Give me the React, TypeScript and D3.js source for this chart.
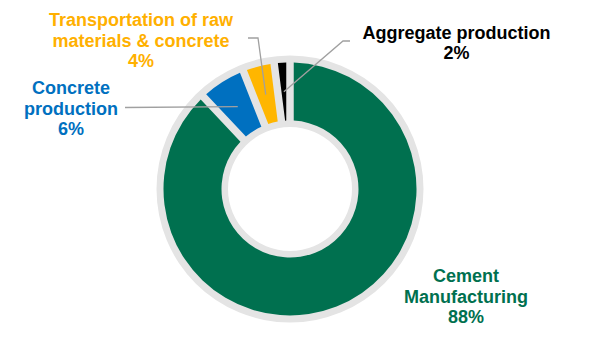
import React from "react";
import * as d3 from "d3";

const categories = [
  "Cement Manufacturing",
  "Concrete production",
  "Transportation of raw materials & concrete",
  "Aggregate production",
];
const shares = [88, 6, 4, 2];
const sliceColors = ["#00704f", "#0070c0", "#ffb600", "#000000"];
const textColors = ["#00704f", "#0070c0", "#ffb000", "#000000"];
const labelLines = [
  ["Cement", "Manufacturing", "88%"],
  ["Concrete", "production", "6%"],
  ["Transportation of raw", "materials & concrete", "4%"],
  ["Aggregate production", "2%"],
];

// layout (not data)
const W = 600;
const H = 360;
const CX = 290;
const CY = 189;
const labelPos = [
  { x: 466, y: 282 },
  { x: 71, y: 94 },
  { x: 141, y: 26 },
  { x: 456.5, y: 38.5 },
];
const leaderStarts: ([number, number][] | null)[] = [
  null,
  [[125, 107.5]],
  [[248, 38], [258, 38]],
  [[350, 41], [343, 41]],
];

export default function App() {
  const pie = d3
    .pie<number>()
    .sort(null)
    .value((d) => d)
    .startAngle(0)
    .endAngle(2 * Math.PI);
  const arcs = pie(shares);
  const arc = d3
    .arc<d3.PieArcDatum<number>>()
    .innerRadius(68.5)
    .outerRadius(126.5)
    .padAngle(0.052);
  const ring = d3
    .arc<any>()
    .innerRadius(62)
    .outerRadius(133.5)
    .startAngle(0)
    .endAngle(2 * Math.PI);

  return (
    <svg
      width={W}
      height={H}
      style={{ position: "absolute", left: 0, top: 0, background: "#fff" }}
      fontFamily="'Liberation Sans', Arial, sans-serif"
    >
      <g transform={`translate(${CX},${CY})`}>
        <path d={ring({}) || ""} fill="#e4e4e4" />
        {arcs.map((a, i) => (
          <path key={i} d={arc(a) || ""} fill={sliceColors[i]} />
        ))}
      </g>
      {arcs.map((a, i) => {
        const starts = leaderStarts[i];
        if (!starts) return null;
        const [mx, my] = arc.centroid(a);
        const pts = [...starts, [mx + CX, my + CY]] as [number, number][];
        return (
          <path
            key={"l" + i}
            d={d3.line()(pts) || ""}
            fill="none"
            stroke="#a0a0a0"
            strokeWidth={1.3}
          />
        );
      })}
      {labelLines.map((lines, i) => (
        <text
          key={"t" + i}
          x={labelPos[i].x}
          y={labelPos[i].y}
          textAnchor="middle"
          fontSize={18}
          fontWeight="bold"
          fill={textColors[i]}
        >
          {lines.map((ln, j) => (
            <tspan key={j} x={labelPos[i].x} dy={j === 0 ? 0 : 20.7}>
              {ln}
            </tspan>
          ))}
        </text>
      ))}
    </svg>
  );
}
